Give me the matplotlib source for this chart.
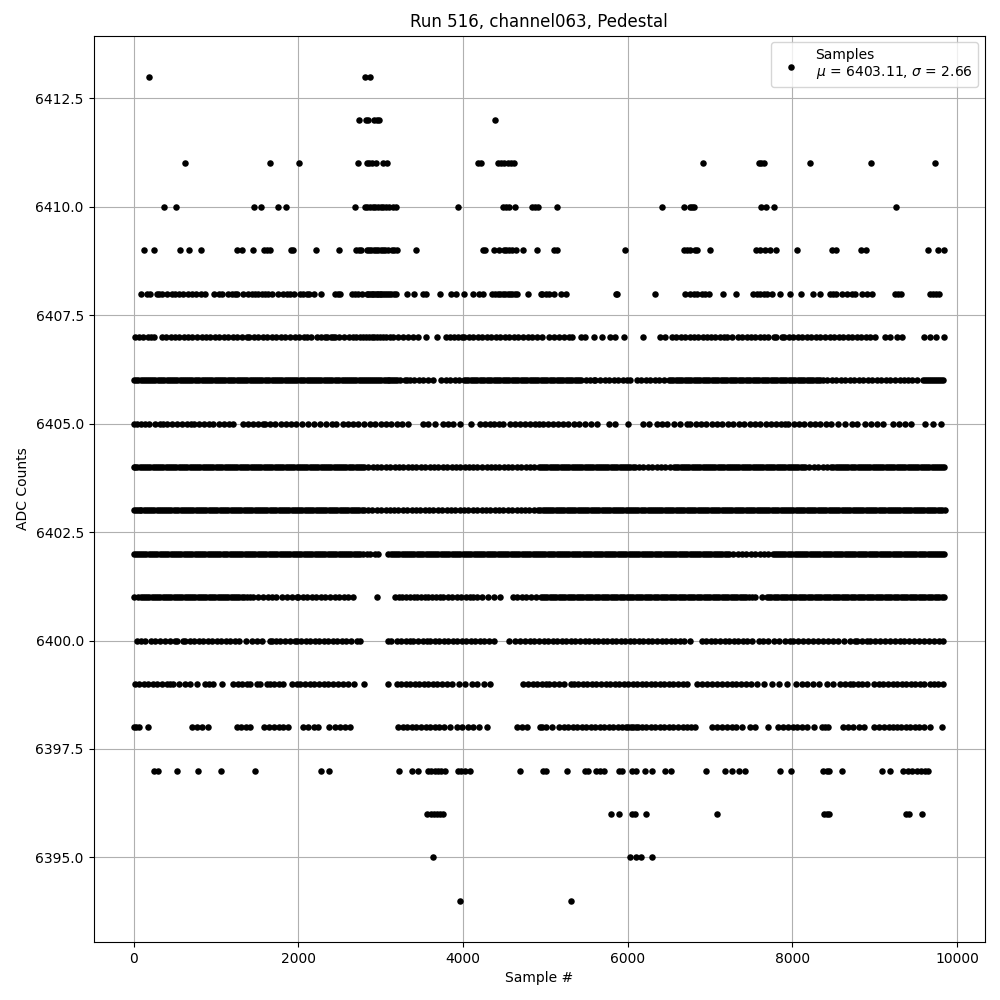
import matplotlib
matplotlib.use("Agg")
import matplotlib.pyplot as plt

s6413 = [187, 2811, 2876]
s6412 = [2742, 2819, 2847, 2920, 2953, 2981, 4384]
s6411 = [625, 1659, 2012, 2730, 2831, 2859, 2892, 2940, 3034, 3074, 4177, 4218, 4420, 4461, 4501, 4542, 4583, 4623,
         6914, 7595, 7623, 7656, 8215, 8957, 9736]
s6410 = [370, 516, 1464, 1550, 1756, 1854, 2693, 2807, 2839, 2871, 2903, 2936, 2968, 3000, 3032, 3065, 3097, 3151, 3184,
         3934, 4490, 4522, 4555, 4631, 4834, 4875, 4907, 5138, 6415, 6687, 6752, 6776, 6800, 7619, 7680, 7777, 9262]
s6409 = [126, 248, 564, 674, 820, 1258, 1318, 1452, 1586, 1623, 1651, 1906, 1935, 2219, 2498, 2701, 2734, 2766, 2831, 2859,
         2887, 2916, 2944, 2972, 3000, 3028, 3057, 3085, 3134, 3166, 3195, 3435, 4238, 4267, 4372, 4437, 4494, 4526, 4559,
         4591, 4644, 4725, 4895, 5109, 5142, 5965, 6683, 6723, 6756, 6813, 6845, 6999, 7554, 7607, 7664, 7729, 7806, 8057,
         8479, 8528, 8832, 8897, 9651, 9773, 9842]
s6408 = [89, 166, 198, 279, 312, 340, 401, 462, 502, 555, 595, 664, 705, 757, 814, 871, 980, 1041, 1077, 1150, 1191, 1231,
         1260, 1324, 1393, 1434, 1474, 1515, 1555, 1596, 1636, 1677, 1750, 1818, 1859, 1899, 1948, 2021, 2061, 2102, 2134,
         2191, 2272, 2446, 2479, 2511, 2649, 2689, 2730, 2770, 2831, 2850, 2870, 2890, 2910, 2930, 2950, 2970, 2990, 3010,
         3030, 3050, 3075, 3100, 3130, 3160, 3190, 3317, 3402, 3511, 3552, 3718, 3852, 3912, 4010, 4127, 4188, 4248, 4350,
         4390, 4420, 4450, 4480, 4510, 4540, 4570, 4600, 4630, 4660, 4787, 4945, 4962, 5002, 5042, 5103, 5184, 5245, 5863,
         5875, 6327, 6691, 6760, 6800, 6840, 6901, 6941, 6982, 7152, 7317, 7527, 7568, 7608, 7649, 7689, 7750, 7846, 7972,
         8101, 8255, 8339, 8457, 8497, 8529, 8598, 8659, 8719, 8760, 8844, 8909, 8966, 9244, 9285, 9317, 9669, 9709, 9749, 9782]
s6407 = [20, 70, 118, 170, 215, 250, 340, 395, 450, 498, 556, 610, 662, 715, 770, 825, 880, 930, 985, 1040, 1095, 1150, 1205,
         1260, 1320, 1380, 1405, 1460, 1512, 1568, 1625, 1680, 1735, 1790, 1842, 1900, 1955, 2010, 2070, 2100, 2160, 2225, 2280,
         2325, 2353, 2400, 2418, 2446, 2500, 2555, 2610, 2660, 2705, 2745, 2785, 2820, 2855, 2890, 2925, 2960, 2995, 3030, 3070,
         3110, 3155, 3215, 3268, 3337, 3398, 3459, 3548, 3690, 3790, 3840, 3890, 3940, 3985, 4015, 4070, 4125, 4180, 4235, 4290,
         4345, 4400, 4450, 4505, 4560, 4615, 4670, 4725, 4785, 4840, 4900, 4962, 5042, 5103, 5164, 5224, 5285, 5325, 5427, 5487,
         5588, 5689, 5790, 5850, 5952, 6182, 6388, 6457, 6538, 6590, 6645, 6695, 6750, 6800, 6855, 6910, 6960, 7015, 7065, 7120,
         7164, 7204, 7265, 7337, 7390, 7445, 7495, 7550, 7600, 7650, 7705, 7770, 7802, 7870, 7900, 7955, 8010, 8065, 8120, 8175,
         8230, 8285, 8340, 8395, 8450, 8505, 8560, 8615, 8670, 8725, 8780, 8835, 8890, 8945, 9000, 9123, 9184, 9265, 9325, 9596,
         9669, 9741, 9838]
s6406 = [5, 30, 55, 85, 110, 135, 160, 190, 215, 240, 265, 295, 320, 345, 370, 400, 425, 450, 475, 505, 530, 560, 585, 610, 635,
         665, 690, 715, 740, 770, 795, 825, 850, 875, 900, 930, 955, 985, 1010, 1035, 1060, 1090, 1115, 1145, 1170, 1195,
         1220, 1250, 1275, 1300, 1325, 1355, 1380, 1410, 1435, 1460, 1485, 1515, 1540, 1565, 1590, 1620, 1645, 1675, 1700, 1725,
         1750, 1780, 1805, 1835, 1860, 1885, 1910, 1940, 1965, 1990, 2015, 2045, 2070, 2100, 2125, 2150, 2175, 2205, 2230, 2255,
         2280, 2310, 2335, 2365, 2390, 2415, 2440, 2470, 2495, 2525, 2550, 2575, 2600, 2630, 2655, 2680, 2705, 2735, 2760, 2785,
         2810, 2835, 2860, 2885, 2910, 2935, 2960, 2985, 3010, 3035, 3060, 3085, 3105, 3130, 3150, 3175, 3195, 3236,
         3290, 3317, 3357, 3410, 3465, 3520, 3575, 3633, 3734, 3790, 3845, 3900, 3955, 4010, 4040, 4065, 4095, 4120, 4150, 4175,
         4205, 4230, 4260, 4285, 4315, 4340, 4370, 4395, 4425, 4450, 4480, 4505, 4535, 4560, 4590, 4615, 4645, 4670, 4700, 4725,
         4755, 4780, 4810, 4835, 4865, 4890, 4915, 4942, 4970, 4995, 5025, 5050, 5080, 5105, 5135, 5160, 5190, 5215, 5245, 5270,
         5300, 5325, 5355, 5380, 5410, 5435, 5490, 5545, 5588, 5608, 5665, 5720, 5775, 5830, 5885, 5940, 5990, 6032, 6113, 6165,
         6220, 6275, 6330, 6385, 6440, 6495, 6525, 6550, 6580, 6605, 6635, 6660, 6690, 6715, 6745, 6770, 6800, 6825, 6855, 6880,
         6910, 6935, 6965, 6990, 7020, 7045, 7075, 7100, 7130, 7155, 7185, 7210, 7240, 7265, 7295, 7320, 7350, 7375, 7405, 7430,
         7460, 7485, 7515, 7540, 7570, 7595, 7625, 7650, 7680, 7705, 7735, 7760, 7790, 7815, 7845, 7870, 7900, 7925, 7955, 7980,
         8010, 8035, 8065, 8090, 8120, 8145, 8175, 8200, 8230, 8255, 8285, 8310, 8340, 8365, 8420, 8475, 8530, 8585, 8640, 8695,
         8750, 8805, 8860, 8915, 8970, 9025, 9080, 9135, 9190, 9245, 9300, 9355, 9406, 9446, 9515, 9580, 9605, 9630, 9655, 9680,
         9705, 9730, 9755, 9780, 9805, 9826]
s6405 = [10, 40, 90, 138, 190, 255, 320, 352, 410, 470, 530, 590, 650, 697, 737, 790, 860, 920, 968, 1037, 1098, 1160, 1211,
         1324, 1385, 1445, 1510, 1575, 1596, 1660, 1720, 1785, 1850, 1910, 1975, 2041, 2122, 2190, 2260, 2335, 2406, 2454, 2539,
         2600, 2665, 2730, 2798, 2871, 2935, 3000, 3065, 3130, 3195, 3256, 3337, 3511, 3580, 3661, 3762, 3823, 3884, 3965, 4094,
         4208, 4268, 4325, 4380, 4435, 4491, 4572, 4630, 4690, 4750, 4810, 4870, 4925, 4977, 5035, 5095, 5155, 5215, 5280, 5346,
         5406, 5480, 5555, 5628, 5770, 5850, 6004, 6186, 6255, 6356, 6416, 6477, 6558, 6640, 6719, 6760, 6825, 6890, 6955, 7020,
         7085, 7150, 7215, 7280, 7345, 7414, 7480, 7545, 7610, 7675, 7740, 7805, 7860, 7911, 7952, 8015, 8080, 8145, 8210, 8275,
         8340, 8405, 8470, 8558, 8638, 8719, 8780, 8881, 8953, 9030, 9103, 9224, 9295, 9366, 9438, 9608, 9709, 9798]
s6404 = [0, 22, 45, 72, 100, 125, 150, 178, 205, 230, 255, 282, 310, 335, 360, 388, 415, 442, 470, 495, 520, 548, 575, 600, 625,
         652, 680, 705, 730, 758, 785, 812, 840, 865, 890, 918, 945, 970, 995, 1022, 1050, 1078, 1105, 1130, 1155, 1182,
         1210, 1235, 1260, 1288, 1315, 1342, 1370, 1395, 1420, 1448, 1475, 1500, 1525, 1552, 1580, 1608, 1635, 1660, 1685, 1712,
         1740, 1765, 1790, 1818, 1845, 1872, 1900, 1925, 1950, 1978, 2005, 2030, 2055, 2082, 2110, 2138, 2165, 2190, 2215, 2242,
         2270, 2295, 2320, 2348, 2375, 2402, 2430, 2455, 2480, 2508, 2535, 2560, 2585, 2612, 2640, 2668, 2695, 2720, 2745, 2772,
         2800, 2850, 2905, 2960, 3010, 3065, 3115, 3170, 3225, 3275, 3330, 3380, 3435, 3490, 3540, 3595, 3645, 3700, 3755, 3805,
         3860, 3910, 3965, 4020, 4070, 4125, 4175, 4230, 4285, 4335, 4390, 4440, 4495, 4550, 4600, 4655, 4705, 4760, 4815, 4865,
         4920, 4945, 4970, 4998, 5025, 5052, 5080, 5105, 5130, 5158, 5185, 5210, 5235, 5262, 5290, 5318, 5345, 5370, 5395, 5422,
         5450, 5475, 5500, 5528, 5555, 5582, 5610, 5635, 5660, 5688, 5715, 5740, 5765, 5792, 5820, 5848, 5875, 5900, 5925, 5952,
         5980, 6005, 6030, 6058, 6085, 6140, 6190, 6245, 6295, 6350, 6405, 6455, 6510, 6560, 6590, 6615, 6642, 6670, 6695, 6720,
         6748, 6775, 6800, 6825, 6852, 6880, 6908, 6935, 6960, 6985, 7012, 7040, 7065, 7090, 7118, 7145, 7172, 7200, 7225, 7250,
         7278, 7305, 7330, 7355, 7382, 7410, 7438, 7465, 7490, 7515, 7542, 7570, 7595, 7620, 7648, 7675, 7702, 7730, 7755, 7780,
         7808, 7835, 7860, 7885, 7912, 7940, 7968, 7995, 8020, 8045, 8072, 8100, 8125, 8150, 8205, 8260, 8310, 8365, 8415, 8470,
         8498, 8525, 8550, 8575, 8602, 8630, 8655, 8680, 8708, 8735, 8762, 8790, 8815, 8840, 8868, 8895, 8920, 8945, 8972, 9000,
         9028, 9055, 9080, 9105, 9132, 9160, 9185, 9210, 9238, 9265, 9292, 9320, 9345, 9370, 9398, 9425, 9450, 9475, 9502, 9530,
         9558, 9585, 9610, 9635, 9662, 9690, 9715, 9740, 9768, 9795, 9820, 9846]
s6403 = [2, 25, 50, 72, 95, 122, 150, 175, 200, 225, 250, 278, 305, 330, 355, 382, 410, 435, 460, 488, 515, 542, 570, 595, 620,
         648, 675, 700, 725, 752, 780, 805, 830, 858, 885, 912, 940, 965, 990, 1018, 1045, 1070, 1095, 1122, 1150, 1178,
         1205, 1230, 1255, 1282, 1310, 1335, 1360, 1388, 1415, 1442, 1470, 1495, 1520, 1548, 1575, 1600, 1625, 1652, 1680, 1708,
         1735, 1760, 1785, 1812, 1840, 1865, 1890, 1918, 1945, 1972, 2000, 2025, 2050, 2078, 2105, 2130, 2155, 2182, 2210, 2238,
         2265, 2290, 2315, 2342, 2370, 2395, 2420, 2448, 2475, 2502, 2530, 2555, 2580, 2608, 2635, 2660, 2685, 2712, 2740, 2768,
         2795, 2845, 2900, 2950, 3005, 3060, 3110, 3165, 3215, 3270, 3325, 3375, 3430, 3480, 3535, 3590, 3640, 3695, 3745, 3800,
         3855, 3905, 3960, 4010, 4065, 4120, 4170, 4225, 4275, 4330, 4385, 4435, 4490, 4540, 4595, 4650, 4700, 4755, 4805, 4860,
         4915, 4940, 4965, 4992, 5020, 5045, 5070, 5098, 5125, 5152, 5180, 5205, 5230, 5258, 5285, 5310, 5335, 5362, 5390, 5418,
         5445, 5470, 5495, 5522, 5550, 5575, 5600, 5628, 5655, 5682, 5710, 5735, 5760, 5788, 5815, 5840, 5865, 5892, 5920, 5948,
         5975, 6000, 6025, 6052, 6080, 6105, 6130, 6158, 6185, 6212, 6240, 6265, 6290, 6318, 6345, 6370, 6395, 6422, 6450, 6478,
         6505, 6530, 6555, 6582, 6610, 6635, 6660, 6688, 6715, 6742, 6770, 6795, 6820, 6848, 6875, 6900, 6925, 6952, 6980, 7008,
         7035, 7060, 7085, 7112, 7140, 7165, 7190, 7218, 7245, 7272, 7300, 7325, 7350, 7378, 7405, 7430, 7455, 7482, 7510, 7538,
         7565, 7590, 7615, 7642, 7670, 7695, 7720, 7748, 7775, 7802, 7830, 7855, 7880, 7908, 7935, 7960, 7985, 8012, 8040, 8068,
         8095, 8120, 8145, 8172, 8200, 8225, 8250, 8278, 8305, 8332, 8360, 8385, 8410, 8438, 8465, 8490, 8515, 8542, 8570, 8598,
         8625, 8650, 8675, 8702, 8730, 8755, 8780, 8808, 8835, 8862, 8890, 8915, 8940, 8968, 8995, 9020, 9045, 9072, 9100, 9128,
         9155, 9180, 9205, 9232, 9260, 9285, 9310, 9338, 9365, 9392, 9420, 9445, 9470, 9498, 9525, 9550, 9575, 9602, 9630, 9658,
         9685, 9710, 9735, 9762, 9790, 9820, 9850]
s6402 = [0, 25, 50, 78, 105, 130, 155, 182, 210, 235, 260, 288, 315, 342, 370, 395, 420, 448, 475, 500, 525, 552, 580, 608, 635,
         660, 685, 712, 740, 765, 790, 818, 845, 872, 900, 925, 950, 978, 1005, 1030, 1055, 1082, 1110, 1138, 1165, 1190,
         1215, 1242, 1270, 1295, 1320, 1348, 1375, 1402, 1430, 1455, 1480, 1508, 1535, 1560, 1585, 1612, 1640, 1668, 1695, 1720,
         1745, 1772, 1800, 1825, 1850, 1878, 1905, 1932, 1960, 1985, 2010, 2038, 2065, 2090, 2115, 2142, 2170, 2198, 2225, 2250,
         2275, 2302, 2330, 2355, 2380, 2408, 2435, 2462, 2490, 2515, 2540, 2568, 2595, 2620, 2645, 2672, 2700, 2728, 2755, 2790,
         2831, 2871, 2932, 2973, 3094, 3120, 3145, 3172, 3200, 3228, 3255, 3280, 3305, 3332, 3360, 3385, 3410, 3438, 3465, 3492,
         3520, 3545, 3570, 3598, 3625, 3650, 3675, 3702, 3730, 3758, 3785, 3810, 3835, 3862, 3890, 3915, 3940, 3968, 3995, 4022,
         4050, 4075, 4100, 4128, 4155, 4180, 4205, 4232, 4260, 4288, 4315, 4340, 4365, 4392, 4420, 4445, 4470, 4498, 4525, 4552,
         4580, 4605, 4630, 4658, 4685, 4710, 4735, 4762, 4790, 4818, 4845, 4870, 4895, 4922, 4950, 4975, 5000, 5028, 5055, 5082,
         5110, 5135, 5160, 5188, 5215, 5240, 5265, 5292, 5320, 5348, 5375, 5400, 5425, 5452, 5480, 5505, 5530, 5558, 5585, 5612,
         5640, 5665, 5690, 5718, 5745, 5770, 5795, 5822, 5850, 5878, 5905, 5930, 5955, 5982, 6010, 6035, 6060, 6088, 6115, 6142,
         6170, 6195, 6220, 6248, 6275, 6300, 6325, 6352, 6380, 6408, 6435, 6460, 6485, 6512, 6540, 6565, 6590, 6618, 6645, 6672,
         6700, 6725, 6750, 6778, 6805, 6830, 6855, 6882, 6910, 6938, 6965, 6990, 7015, 7042, 7070, 7095, 7120, 7148, 7175, 7202,
         7230, 7280, 7335, 7385, 7440, 7495, 7545, 7600, 7650, 7705, 7760, 7790, 7810, 7838, 7865, 7890, 7915, 7942, 7970, 7998,
         8025, 8050, 8075, 8102, 8130, 8155, 8180, 8208, 8235, 8262, 8290, 8315, 8340, 8368, 8395, 8420, 8445, 8472, 8500, 8528,
         8555, 8580, 8605, 8632, 8660, 8685, 8710, 8738, 8765, 8792, 8820, 8845, 8870, 8898, 8925, 8950, 8975, 9002, 9030, 9058,
         9085, 9110, 9135, 9162, 9190, 9215, 9240, 9268, 9295, 9322, 9350, 9375, 9400, 9428, 9455, 9480, 9505, 9532, 9560, 9588,
         9615, 9640, 9665, 9692, 9720, 9745, 9770, 9795, 9815, 9846]
s6401 = [8, 57, 85, 110, 138, 165, 192, 220, 245, 270, 298, 325, 352, 380, 405, 430, 458, 485, 512, 540, 565, 590, 618, 645,
         672, 700, 725, 750, 778, 805, 832, 860, 885, 910, 938, 965, 992, 1020, 1045, 1070, 1098, 1125, 1152, 1180, 1205,
         1230, 1258, 1285, 1312, 1340, 1375, 1413, 1454, 1510, 1570, 1636, 1677, 1735, 1798, 1867, 1925, 1980, 2000, 2055, 2110,
         2165, 2220, 2275, 2330, 2385, 2440, 2495, 2550, 2600, 2669, 2952, 3175, 3220, 3265, 3310, 3355, 3400, 3445, 3490, 3535,
         3580, 3625, 3670, 3715, 3760, 3815, 3870, 3925, 3980, 4035, 4080, 4127, 4167, 4235, 4300, 4370, 4447, 4605, 4660, 4715,
         4770, 4825, 4880, 4942, 4970, 4995, 5022, 5050, 5078, 5105, 5132, 5160, 5188, 5215, 5242, 5270, 5298, 5325, 5352, 5380,
         5408, 5435, 5462, 5490, 5518, 5545, 5572, 5600, 5628, 5655, 5682, 5710, 5738, 5765, 5792, 5820, 5848, 5875, 5902, 5930,
         5958, 5985, 6012, 6040, 6068, 6095, 6122, 6150, 6178, 6205, 6232, 6260, 6288, 6315, 6342, 6370, 6398, 6425, 6452, 6480,
         6508, 6535, 6562, 6590, 6618, 6645, 6672, 6700, 6728, 6755, 6782, 6810, 6838, 6865, 6892, 6920, 6948, 6975, 7002, 7030,
         7058, 7085, 7112, 7140, 7168, 7195, 7222, 7250, 7278, 7305, 7332, 7360, 7388, 7415, 7442, 7470, 7505, 7547, 7636, 7689,
         7718, 7745, 7772, 7800, 7828, 7855, 7882, 7910, 7938, 7965, 7992, 8020, 8048, 8075, 8102, 8130, 8158, 8185, 8212, 8240,
         8268, 8295, 8322, 8350, 8378, 8405, 8432, 8460, 8488, 8515, 8542, 8570, 8598, 8625, 8652, 8680, 8708, 8735, 8762, 8790,
         8818, 8845, 8872, 8900, 8928, 8955, 8982, 9010, 9038, 9065, 9092, 9120, 9148, 9175, 9202, 9230, 9258, 9285, 9312, 9340,
         9368, 9395, 9422, 9450, 9478, 9505, 9532, 9560, 9588, 9615, 9642, 9670, 9698, 9725, 9752, 9780, 9812, 9846]
s6400 = [36, 85, 138, 206, 259, 320, 380, 445, 502, 522, 603, 624, 680, 735, 790, 845, 900, 955, 1010, 1065, 1120, 1175, 1231,
         1280, 1361, 1434, 1495, 1560, 1656, 1677, 1730, 1778, 1839, 1900, 1960, 1980, 2035, 2090, 2145, 2200, 2255, 2310, 2365,
         2420, 2475, 2530, 2585, 2640, 2709, 2750, 3094, 3125, 3195, 3250, 3310, 3357, 3390, 3450, 3510, 3560, 3600, 3655, 3710,
         3765, 3820, 3875, 3930, 3985, 4040, 4095, 4150, 4205, 4260, 4315, 4370, 4564, 4633, 4695, 4755, 4815, 4864, 4920, 4980,
         5035, 5090, 5145, 5200, 5255, 5310, 5365, 5420, 5475, 5530, 5585, 5640, 5695, 5750, 5805, 5860, 5915, 5970, 6025, 6080,
         6135, 6190, 6245, 6300, 6355, 6410, 6465, 6520, 6575, 6630, 6685, 6760, 6901, 6955, 7010, 7065, 7120, 7175, 7230, 7285,
         7340, 7395, 7450, 7505, 7588, 7640, 7709, 7770, 7840, 7905, 7972, 8012, 8070, 8130, 8190, 8250, 8310, 8370, 8430, 8497,
         8557, 8625, 8695, 8760, 8780, 8840, 8901, 8941, 9000, 9060, 9120, 9180, 9240, 9300, 9360, 9420, 9480, 9540, 9600, 9660,
         9720, 9780, 9830]
s6399 = [16, 70, 125, 180, 235, 290, 345, 400, 441, 482, 550, 624, 684, 765, 867, 920, 968, 1077, 1211, 1265, 1320, 1373, 1413,
         1494, 1535, 1616, 1656, 1710, 1765, 1818, 1920, 1980, 2021, 2080, 2140, 2195, 2250, 2310, 2365, 2425, 2480, 2545, 2608,
         2677, 2799, 3086, 3195, 3250, 3305, 3360, 3415, 3470, 3525, 3580, 3635, 3690, 3745, 3803, 3868, 3945, 4025, 4107, 4175,
         4250, 4329, 4734, 4790, 4845, 4900, 4962, 5002, 5042, 5103, 5164, 5224, 5305, 5346, 5400, 5455, 5510, 5565, 5620, 5675,
         5730, 5785, 5840, 5895, 5950, 6005, 6060, 6115, 6170, 6225, 6280, 6335, 6390, 6445, 6500, 6555, 6610, 6665, 6719, 6841,
         6900, 6960, 7020, 7080, 7140, 7200, 7260, 7320, 7380, 7440, 7500, 7568, 7649, 7750, 7840, 7931, 8044, 8110, 8180, 8250,
         8320, 8416, 8489, 8578, 8640, 8699, 8739, 8790, 8840, 8909, 8994, 9050, 9105, 9160, 9215, 9270, 9325, 9380, 9435, 9490,
         9545, 9600, 9669, 9717, 9770, 9830]
s6398 = [0, 35, 69, 170, 705, 774, 826, 907, 1251, 1305, 1360, 1413, 1584, 1645, 1705, 1760, 1818, 1871, 2053, 2120, 2185, 2244,
         2377, 2440, 2507, 2568, 2628, 3216, 3270, 3325, 3380, 3435, 3490, 3545, 3600, 3655, 3710, 3775, 3843, 3924, 3990, 4060,
         4127, 4196, 4289, 4653, 4715, 4775, 4937, 4962, 5002, 5083, 5164, 5220, 5275, 5330, 5385, 5440, 5495, 5550, 5605, 5660,
         5715, 5770, 5825, 5880, 5935, 5975, 6005, 6035, 6065, 6095, 6125, 6170, 6225, 6280, 6335, 6390, 6445, 6500, 6555, 6610,
         6665, 6720, 6770, 6820, 7022, 7080, 7140, 7200, 7260, 7320, 7386, 7479, 7548, 7709, 7830, 7890, 7950, 8012, 8053, 8110,
         8174, 8267, 8356, 8395, 8437, 8610, 8675, 8740, 8805, 8869, 8994, 9050, 9110, 9170, 9224, 9265, 9320, 9375, 9430, 9485,
         9540, 9595, 9669, 9810]
s6397 = [243, 292, 523, 778, 1057, 1470, 2272, 2369, 3220, 3378, 3450, 3572, 3609, 3657, 3694, 3730, 3778, 3937, 3973, 4022,
         4083, 4690, 4970, 5006, 5261, 5480, 5516, 5614, 5662, 5711, 5893, 5930, 6051, 6100, 6209, 6294, 6452, 6525, 6950, 7181,
         7266, 7351, 7424, 7849, 7983, 8371, 8420, 8445, 8603, 9089, 9186, 9344, 9405, 9453, 9514, 9563, 9611, 9648]
s6396 = [3560, 3609, 3645, 3682, 3718, 3754, 5796, 5893, 6051, 6088, 6221, 7084, 8384, 8420, 8445, 9380, 9417, 9575]
s6395 = [3633, 6027, 6100, 6160, 6294]
s6394 = [3961, 5310]

levels = [6413, 6412, 6411, 6410, 6409, 6408, 6407, 6406, 6405, 6404, 6403, 6402, 6401, 6400, 6399, 6398, 6397, 6396, 6395, 6394]
rows = [s6413, s6412, s6411, s6410, s6409, s6408, s6407, s6406, s6405, s6404, s6403, s6402, s6401, s6400, s6399, s6398, s6397, s6396, s6395, s6394]

sample_x = [x for row in rows for x in row]
sample_y = [lev for lev, row in zip(levels, rows) for _ in row]

fig, ax = plt.subplots(figsize=(10, 10), dpi=100)
ax.scatter(sample_x, sample_y, s=22, c='k', linewidths=0, zorder=2.5,
           label='Samples\n$\\mu$ = 6403.11, $\\sigma$ = 2.66')
ax.grid(True)
ax.set_title('Run 516, channel063, Pedestal')
ax.set_xlabel('Sample #')
ax.set_ylabel('ADC Counts')
ax.legend(loc='upper right')
ax.set_xlim(-487, 10338)
fig.subplots_adjust(left=0.0935, right=0.985, top=0.9645, bottom=0.058)
fig.savefig('out.png', dpi=100)
